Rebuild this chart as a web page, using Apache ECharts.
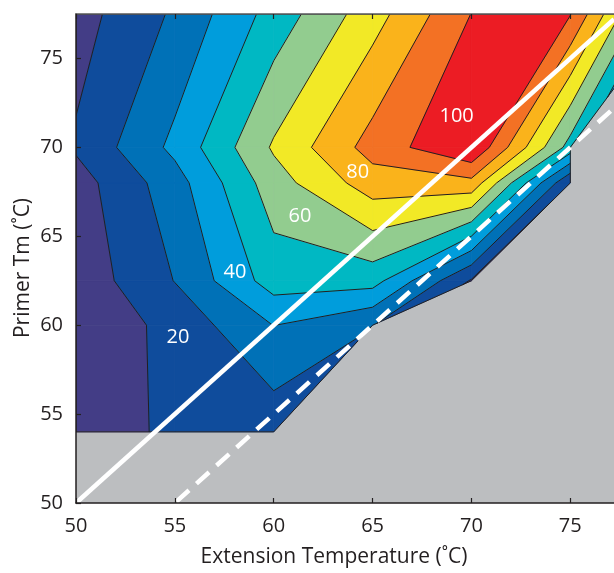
<!DOCTYPE html>
<html><head><meta charset="utf-8">
<script src="https://cdn.jsdelivr.net/npm/echarts@6/dist/echarts.min.js"></script>
<style>html,body{margin:0;padding:0;background:#fff}#c{width:614px;height:573px}</style>
</head><body><div id="c"></div>
<script>
// ---- data: measured grid (rows = primer Tm, columns = extension temperature) ----
const extTemps  = [50, 55, 60, 65, 70, 75, 80];
const primerTms = [54, 60, 62.5, 68, 70, 77.5];
// yield values per row; null = not measured
const yieldTm54   = [4.3, 12, 13.6, null, null, null, null];
const yieldTm60   = [1.8, 13.3, 30.2, 20.5, null, null, null];
const yieldTm62_5 = [3.5, 20.3, 44.7, 44, 9, null, null];
const yieldTm68   = [5.5, 25.7, 55.5, 75.2, 77, 10.2, null];
const yieldTm70   = [11.3, 32.5, 61.3, 84.1, 99.7, 46, null];
const yieldTm77_5 = [5.8, 21.5, 43.9, 65.7, 90.2, 90.5, 30];
const contourLevels = [10, 20, 30, 40, 50, 60, 70, 80, 90];
const labelTexts = ['20', '40', '60', '80', '100'];
const labelExt   = [55.16, 58.04, 61.33, 64.25, 69.25];
const labelTm    = [59.32, 62.97, 66.15, 68.57, 71.72];
const refLineOffsets = [0, 5];        // Tm = Ext - offset
const tickValues = [50, 55, 60, 65, 70, 75];

// ---- styles ----
const bandColors = ['#433D86','#0F4C9C','#0071B7','#009DDC','#00B8C3','#92CC8F','#F2E926','#FAB31B','#F37124','#EC1C24'];
const FONT = 'Open Sans';
const X_MAX = 77.21, Y_MAX = 77.5;

const Z = [yieldTm54, yieldTm60, yieldTm62_5, yieldTm68, yieldTm70, yieldTm77_5];

function clip(poly, t, above) {
  const out = [];
  const n = poly.length;
  const ins = p => above ? p[2] >= t : p[2] <= t;
  const cut = (a, b) => {
    const f = (t - a[2]) / (b[2] - a[2]);
    return [a[0] + f * (b[0] - a[0]), a[1] + f * (b[1] - a[1]), t, true];
  };
  for (let i = 0; i < n; i++) {
    const cur = poly[i], prev = poly[(i + n - 1) % n];
    const ci = ins(cur), pi = ins(prev);
    if (ci) { if (!pi) out.push(cut(prev, cur)); out.push(cur); }
    else if (pi) out.push(cut(prev, cur));
  }
  return out;
}

const fills = [], lines = [];
const edgeCount = {};
for (let j = 0; j < primerTms.length - 1; j++) {
  for (let i = 0; i < extTemps.length - 1; i++) {
    const idx = [[i, j], [i + 1, j], [i + 1, j + 1], [i, j + 1]];
    const valid = idx.filter(([a, b]) => Z[b][a] !== null);
    if (valid.length < 3) continue;
    const cell = valid.map(([a, b]) => [extTemps[a], primerTms[b], Z[b][a], false]);
    for (let k = 0; k < valid.length; k++) {
      const p = valid[k], q = valid[(k + 1) % valid.length];
      const key = [p.join(','), q.join(',')].sort().join('|');
      edgeCount[key] = edgeCount[key] || { n: 0, a: [extTemps[p[0]], primerTms[p[1]]], b: [extTemps[q[0]], primerTms[q[1]]] };
      edgeCount[key].n++;
    }
    for (let b = 0; b < bandColors.length; b++) {
      let poly = cell;
      if (b > 0) poly = clip(poly, contourLevels[b - 1], true);
      if (poly.length >= 3 && b < contourLevels.length) poly = clip(poly, contourLevels[b], false);
      if (poly.length >= 3) fills.push({ band: b, pts: poly.map(p => [p[0], p[1]]) });
    }
    for (const L of contourLevels) {
      const poly = clip(cell.map(p => [p[0], p[1], p[2], false]), L, true);
      const n = poly.length;
      if (n < 3) continue;
      for (let k = 0; k < n; k++) {
        const p = poly[k], q = poly[(k + 1) % n];
        if (p[3] && q[3]) lines.push([[p[0], p[1]], [q[0], q[1]]]);
      }
    }
  }
}
Object.values(edgeCount).forEach(e => { if (e.n === 1) lines.push([e.a, e.b]); });

const chart = echarts.init(document.getElementById('c'), null, { renderer: 'canvas' });

const axisCommon = {
  type: 'value', splitLine: { show: false }, z: 10,
  axisTick: { show: true, inside: true, length: 5, customValues: tickValues, lineStyle: { color: '#231F20', width: 1.2 } },
  axisLabel: { customValues: tickValues, color: '#231F20', fontSize: 20, fontFamily: FONT, margin: 13 },
  axisLine: { show: true, onZero: false, lineStyle: { color: '#231F20', width: 1.5 } }
};

chart.setOption({
  animation: false,
  grid: { left: 76, right: 0, top: 14, bottom: 70, show: true, backgroundColor: '#BCBEC0', borderWidth: 0 },
  xAxis: [
    Object.assign({}, axisCommon, { min: 50, max: X_MAX, position: 'bottom' }),
    Object.assign({}, axisCommon, { min: 50, max: X_MAX, position: 'top', axisLabel: { show: false },
      axisLine: { show: true, onZero: false, lineStyle: { color: '#58595B', width: 1.5 } } })
  ],
  yAxis: [Object.assign({}, axisCommon, { min: 50, max: Y_MAX })],
  graphic: [
    { type: 'text', x: 334, y: 557, style: { text: 'Extension Temperature (˚C)', fontSize: 21, fontFamily: FONT, fill: '#231F20', align: 'center', verticalAlign: 'middle' } },
    { type: 'text', x: 23, y: 268, rotation: Math.PI / 2, style: { text: 'Primer Tm (˚C)', fontSize: 21, fontFamily: FONT, fill: '#231F20', align: 'center', verticalAlign: 'middle' } }
  ],
  series: [
    {
      type: 'custom', clip: true, z: 2,
      data: fills.map((f, i) => [f.pts[0][0], f.pts[0][1], i]),
      encode: { x: 0, y: 1 },
      renderItem: (params, api) => {
        const f = fills[api.value(2)];
        const c = bandColors[f.band];
        return { type: 'polygon', shape: { points: f.pts.map(p => api.coord(p)) },
          style: { fill: c, stroke: c, lineWidth: 0.7 } };
      }
    },
    {
      type: 'custom', clip: true, z: 3,
      data: lines.map((l, i) => [l[0][0], l[0][1], i]),
      encode: { x: 0, y: 1 },
      renderItem: (params, api) => {
        const l = lines[api.value(2)];
        return { type: 'polyline', shape: { points: l.map(p => api.coord(p)) },
          style: { stroke: '#231F20', lineWidth: 1, fill: null } };
      }
    },
    ...refLineOffsets.map((off, k) => ({
      type: 'line', z: 4, symbol: 'none', clip: true, silent: true,
      data: [[50, 50 - off], [X_MAX, X_MAX - off]],
      lineStyle: { color: '#FFFFFF', width: 4.5, type: k === 0 ? 'solid' : [17, 10] }
    })),
    {
      type: 'custom', z: 5, silent: true,
      data: labelTexts.map((t, i) => [labelExt[i], labelTm[i], i]),
      encode: { x: 0, y: 1 },
      renderItem: (params, api) => {
        const p = api.coord([api.value(0), api.value(1)]);
        return { type: 'text', x: p[0], y: p[1],
          style: { text: labelTexts[api.value(2)], fill: '#FFFFFF', fontSize: 20, fontFamily: FONT, align: 'center', verticalAlign: 'middle' } };
      }
    }
  ]
});
</script></body></html>
